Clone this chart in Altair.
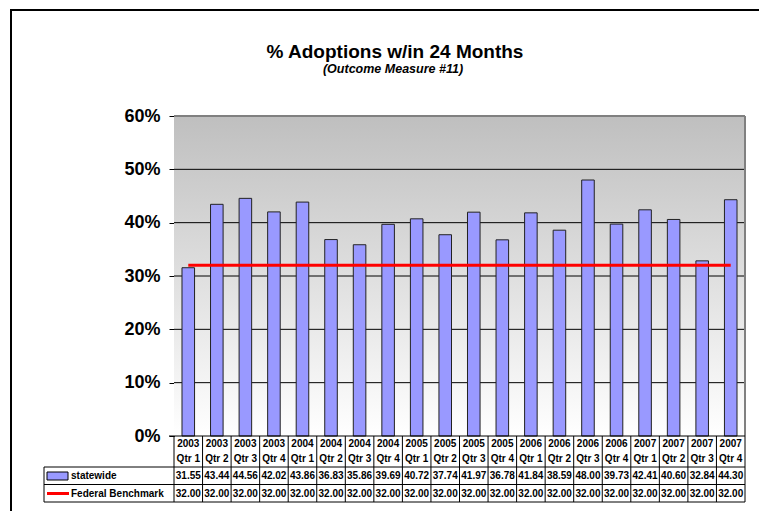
import altair as alt
import pandas as pd

# ---- data ----
years = ["2003"] * 4 + ["2004"] * 4 + ["2005"] * 4 + ["2006"] * 4 + ["2007"] * 4
quarters = ["Qtr 1", "Qtr 2", "Qtr 3", "Qtr 4"] * 5
statewide = [31.55, 43.44, 44.56, 42.02, 43.86, 36.83, 35.86, 39.69, 40.72, 37.74,
             41.97, 36.78, 41.84, 38.59, 48.00, 39.73, 42.41, 40.60, 32.84, 44.30]
benchmark = [32.00] * 20
y_ticks = [0, 10, 20, 30, 40, 50, 60]
grid_ticks = [10, 20, 30, 40, 50]

categories = [f"{y} {q}" for y, q in zip(years, quarters)]
df = pd.DataFrame({"cat": categories, "year": years, "qtr": quarters,
                   "statewide": statewide, "benchmark": benchmark})
one = pd.DataFrame({"a": [0]})
grid_df = pd.DataFrame({"t": grid_ticks})

FONT = "Liberation Sans"
W, H = 571, 320

xscale = alt.Scale(domain=categories, paddingInner=0, paddingOuter=0)
yscale = alt.Scale(domain=[0, 60], nice=False, zero=True)
xcat = alt.X("cat:N", scale=xscale, axis=None)
yaxis = alt.Axis(values=y_ticks, labelExpr="datum.value + '%'",
                 labelFont=FONT, labelFontSize=18, labelFontWeight="bold",
                 labelColor="black", tickColor="black", tickSize=5,
                 domainColor="black", grid=False, title=None, labelPadding=9)

base = alt.Chart(df)

# outer frame (left and top edges; the rest lies outside the page)
frame_left = alt.Chart(one).mark_rule(color="black", strokeWidth=2).encode(
    x=alt.value(-163), y=alt.value(-107), y2=alt.value(400))
frame_top = alt.Chart(one).mark_rule(color="black", strokeWidth=2).encode(
    y=alt.value(-106), x=alt.value(-164), x2=alt.value(W + 14))

# plot-area gradient
grad = alt.Chart(one).mark_rect(
    fill=alt.LinearGradient(gradient="linear",
                            stops=[alt.GradientStop(color="#bfbfbf", offset=0),
                                   alt.GradientStop(color="#ffffff", offset=1)],
                            x1=0, x2=0, y1=0, y2=1)
).encode(x=alt.value(0), x2=alt.value(W), y=alt.value(0), y2=alt.value(H))

grid = alt.Chart(grid_df).mark_rule(color="black", strokeWidth=1).encode(
    y=alt.Y("t:Q", scale=yscale, axis=yaxis), x=alt.value(0), x2=alt.value(W))

top_border = alt.Chart(one).mark_rule(color="#808080", strokeWidth=2).encode(
    y=alt.value(0), x=alt.value(0), x2=alt.value(W))
right_border = alt.Chart(one).mark_rule(color="#808080", strokeWidth=2).encode(
    x=alt.value(W), y=alt.value(0), y2=alt.value(H))

bars = base.mark_bar(width=alt.RelativeBandSize(0.44), fill="#9999ff",
                     stroke="#222222", strokeWidth=1).encode(
    x=xcat, y=alt.Y("statewide:Q", scale=yscale, axis=yaxis))

line = base.mark_line(color="#ff0000", strokeWidth=3).encode(
    x=xcat, y=alt.Y("benchmark:Q", scale=yscale, axis=yaxis))

xaxis_line = alt.Chart(one).mark_rule(color="black", strokeWidth=1).encode(
    y=alt.value(H), x=alt.value(-5), x2=alt.value(W))

# table grid
col_sep = base.mark_rule(color="black", strokeWidth=1).encode(
    x=alt.X("cat:N", scale=xscale, axis=None, bandPosition=0),
    y=alt.value(H), y2=alt.value(386))
right_sep = alt.Chart(one).mark_rule(color="black", strokeWidth=1).encode(
    x=alt.value(W), y=alt.value(H), y2=alt.value(386))
left_sep = alt.Chart(one).mark_rule(color="black", strokeWidth=1).encode(
    x=alt.value(-130), y=alt.value(351), y2=alt.value(386))
hlines = [alt.Chart(one).mark_rule(color="black", strokeWidth=1).encode(
    y=alt.value(yv), x=alt.value(-130), x2=alt.value(W)) for yv in (351, 368.5, 386)]

tstyle = dict(font=FONT, fontSize=10, fontWeight="bold", color="black",
              baseline="middle", align="center")
hdr_year = base.mark_text(**tstyle).encode(x=xcat, y=alt.value(328), text="year:N")
hdr_qtr = base.mark_text(**tstyle).encode(x=xcat, y=alt.value(343), text="qtr:N")
val_sw = base.mark_text(**tstyle).encode(
    x=xcat, y=alt.value(360), text=alt.Text("statewide:Q", format=".2f"))
val_bm = base.mark_text(**tstyle).encode(
    x=xcat, y=alt.value(377.5), text=alt.Text("benchmark:Q", format=".2f"))

# legend keys in table
swatch = alt.Chart(one).mark_rect(fill="#9999ff", stroke="black", strokeWidth=1).encode(
    x=alt.value(-127), x2=alt.value(-106), y=alt.value(356), y2=alt.value(364))
red_key = alt.Chart(one).mark_rule(color="#ff0000", strokeWidth=3).encode(
    x=alt.value(-127), x2=alt.value(-105), y=alt.value(377.5))
lstyle = dict(font=FONT, fontSize=10, fontWeight="bold", color="black",
              baseline="middle", align="left")
lab_sw = alt.Chart(one).mark_text(text="statewide", **lstyle).encode(
    x=alt.value(-103), y=alt.value(360))
lab_bm = alt.Chart(one).mark_text(text="Federal Benchmark", **lstyle).encode(
    x=alt.value(-103), y=alt.value(377.5))

# titles
title = alt.Chart(one).mark_text(text="% Adoptions w/in 24 Months", font=FONT,
                                 fontSize=19, fontWeight="bold", color="black",
                                 align="center", baseline="middle").encode(
    x=alt.value(221), y=alt.value(-64))
subtitle = alt.Chart(one).mark_text(text="(Outcome Measure #11)", font=FONT,
                                    fontSize=12.5, fontWeight="bold", fontStyle="italic",
                                    color="black", align="center", baseline="middle").encode(
    x=alt.value(219), y=alt.value(-47))

chart = alt.layer(
    frame_left, frame_top, grad, grid, top_border, right_border, bars, line, xaxis_line,
    col_sep, right_sep, left_sep, *hlines, hdr_year, hdr_qtr, val_sw, val_bm,
    swatch, red_key, lab_sw, lab_bm, title, subtitle
).properties(
    width=W, height=H,
    autosize=alt.AutoSizeParams(type="none"),
    padding={"left": 166, "top": 108, "right": 14, "bottom": 75},
).configure_view(stroke=None)

chart.save("out.html", embed_options={"renderer": "svg", "actions": False})
